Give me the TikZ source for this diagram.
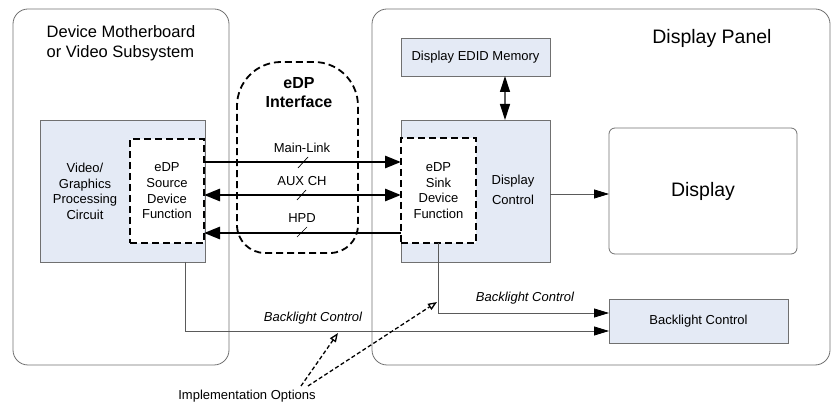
\documentclass[tikz,border=0pt]{standalone}
\usepackage{fontspec}
\setmainfont{Liberation Sans}
\usetikzlibrary{arrows.meta}

\definecolor{panelfill}{RGB}{228,234,245}
\definecolor{edgegray}{RGB}{112,112,112}
\definecolor{linegray}{RGB}{90,90,90}

\tikzset{
  bushead/.tip={Triangle[length=16pt,width=12pt]},
  connhead/.tip={Triangle[length=15pt,width=9pt,color=black]},
  edidhead/.tip={Triangle[length=16pt,width=10pt,color=black]},
  opthead/.tip={Triangle[open,length=9pt,width=7pt]}
}

\begin{document}
\begin{tikzpicture}[x=1pt,y=-1pt,
  every node/.style={font=\fontsize{13}{15.7}\selectfont, inner sep=0pt, outer sep=0pt},
  group/.style={draw=edgegray, line width=0.8pt, rounded corners=15pt},
  block/.style={draw=edgegray, fill=panelfill, line width=0.8pt},
  funcbox/.style={draw=black, fill=white, line width=1.8pt, dash pattern=on 7pt off 4pt, align=center},
  bus/.style={line width=2.8pt, draw=black},
  conn/.style={draw=linegray, line width=0.8pt},
  optline/.style={draw=black, line width=1.3pt, dash pattern=on 4pt off 2.5pt},
  slash/.style={draw=black, line width=0.7pt},
  blabel/.style={font=\fontsize{13}{15.7}\selectfont\itshape}
]
\useasboundingbox (0,0) rectangle (831,403);

% outer groups
\node[group, minimum width=216pt, minimum height=356pt] (host) at (121,187) {};
\node[group, minimum width=458pt, minimum height=356pt] (panel) at (601,187) {};
\node[font=\fontsize{16.5}{20}\selectfont, align=left] (hosttitle) at (121,43)
  {Device Motherboard\\or Video Subsystem};
\node[font=\fontsize{19.5}{23}\selectfont] (paneltitle) at (712,38) {Display Panel};

% source side
\node[block, minimum width=165pt, minimum height=142pt] (vgp) at (122.5,191) {};
\node[align=center] (vgptext) at (85,191.5) {Video/\\Graphics\\Processing\\Circuit};
\node[funcbox, minimum width=74pt, minimum height=104pt] (src) at (167,191)
  {eDP\\Source\\Device\\Function};

% eDP interface outline
\draw[black, line width=1.8pt, dash pattern=on 7pt off 4pt]
  (237,160) [rounded corners=44pt] -- (237,62) -- (358,62) -- (358,160)
  [rounded corners=28pt] -- (358,253) -- (237,253) -- cycle;
\node[font=\fontsize{16}{19}\selectfont\bfseries, align=center] (ifc) at (299,93) {eDP\\Interface};

% sink side
\node[block, minimum width=149pt, minimum height=38pt] (edid) at (475.5,57) {Display EDID Memory};
\node[block, minimum width=149pt, minimum height=142pt] (dc) at (475.5,191) {};
\node[align=center, font=\fontsize{13}{20}\selectfont] (dctext) at (513,190) {Display\\Control};
\node[funcbox, minimum width=75pt, minimum height=105pt] (snk) at (438.5,190.5)
  {eDP\\Sink\\Device\\Function};
\node[draw=edgegray, line width=0.8pt, rounded corners=6pt, minimum width=188pt,
  minimum height=126pt, font=\fontsize{19.5}{23}\selectfont] (disp) at (703,191) {Display};
\node[block, minimum width=179pt, minimum height=44pt] (blc) at (698.5,321) {Backlight Control};

% row levels and helper points
\coordinate (yML) at (0,162);
\coordinate (yAX) at (0,195);
\coordinate (yHP) at (0,233);
\coordinate (xE) at (505,0);
\coordinate (yD) at (0,194);
\coordinate (xV) at (185,0);
\coordinate (yB1) at (0,313);
\coordinate (yB2) at (0,331);

% eDP links
\draw[bus, -{bushead}] (src.east |- yML) -- (snk.west |- yML);
\draw[bus, {bushead}-{bushead}] (src.east |- yAX) -- (snk.west |- yAX);
\draw[bus, {bushead}-] (src.east |- yHP) -- (snk.west |- yHP);
\node (lml) at (302,148) {Main-Link};
\node (lax) at (302,181) {AUX CH};
\node (lhp) at (302,218) {HPD};
\draw[slash] (298,168) -- (308,157);
\draw[slash] (297,200) -- (306,190);
\draw[slash] (297,237) -- (307,227);

% EDID access and display drive
\draw[conn, line width=1.2pt, {edidhead}-{edidhead}] (edid.south -| xE) -- (dc.north -| xE);
\draw[conn, -{connhead}] (dc.east |- yD) -- (disp.west |- yD);

% backlight control paths
\draw[conn, -{connhead}] (snk.south) |- (blc.west |- yB1);
\draw[conn, -{connhead}] (vgp.south -| xV) |- (blc.west |- yB2);
\node[blabel] (bl1) at (525,298) {Backlight Control};
\node[blabel] (bl2) at (313,318) {Backlight Control};

% implementation options
\node (impl) at (247,396) {Implementation Options};
\coordinate (optA) at (301,386);
\coordinate (optB) at (308,386);
\coordinate (optEndA) at (338,333);
\coordinate (optEndB) at (437,302);
\draw[optline, -{opthead}] (optA) -- (optEndA);
\draw[optline, -{opthead}] (optB) -- (optEndB);
\end{tikzpicture}
\end{document}
